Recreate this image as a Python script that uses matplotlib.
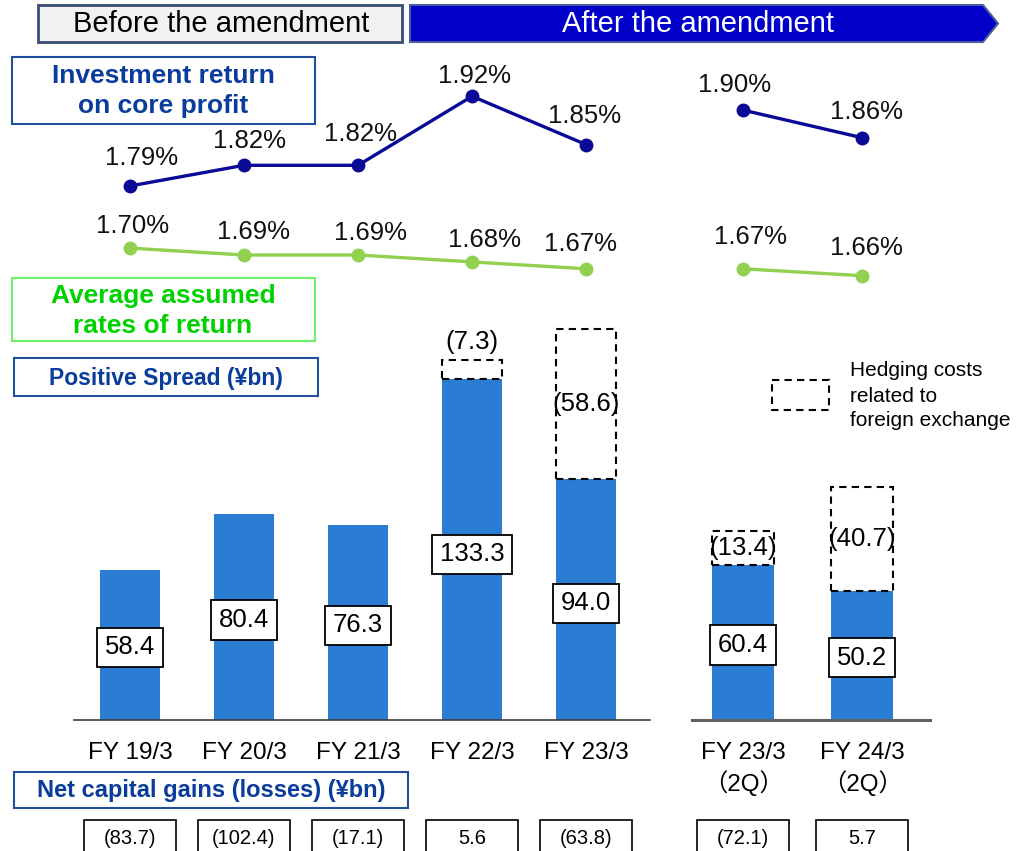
import matplotlib
matplotlib.use("Agg")
import matplotlib.pyplot as plt
from matplotlib.patches import Rectangle, Polygon

plt.rcParams['font.family'] = ['Liberation Sans', 'Noto Sans CJK JP', 'DejaVu Sans']

# ---------------- data ----------------
cats_before = ["FY 19/3", "FY 20/3", "FY 21/3", "FY 22/3", "FY 23/3"]
cats_after = ["FY 23/3\n（2Q）", "FY 24/3\n（2Q）"]
inv_return_before = [1.79, 1.82, 1.82, 1.92, 1.85]
inv_return_after = [1.90, 1.86]
assumed_before = [1.70, 1.69, 1.69, 1.68, 1.67]
assumed_after = [1.67, 1.66]
spread_before = [58.4, 80.4, 76.3, 133.3, 94.0]
spread_after = [60.4, 50.2]
hedge_before = [0, 0, 0, 7.3, 58.6]
hedge_after = [13.4, 40.7]
gains_before = [-83.7, -102.4, -17.1, 5.6, -63.8]
gains_after = [-72.1, 5.7]

# label offsets (pixels) for percent labels
off_inv_before = [(12, 28), (6, 24), (2, 31), (2, 20), (-2, 29)]
off_inv_after = [(-8, 25), (4, 26)]
off_ass_before = [(3, 22), (10, 23), (12, 22), (12, 22), (-6, 25)]
off_ass_after = [(7, 32), (4, 28)]

W, H = 1017, 851
fig = plt.figure(figsize=(W / 100, H / 100), dpi=100)

def px_axes(x0, y0, x1, y1, z=1):
    ax = fig.add_axes([x0 / W, 1 - y1 / H, (x1 - x0) / W, (y1 - y0) / H], zorder=z)
    ax.set_facecolor('none')
    return ax

# overlay for decorations
ov = px_axes(0, 0, W, H, z=0)
ov.set_xlim(0, W)
ov.set_ylim(H, 0)
ov.axis('off')

BAR_C = '#2B7CD3'
BLUE_L = '#0A0A96'
GREEN_L = '#92D050'
TXT_BLUE = '#0A3C9C'

def fmt_neg(v):
    return f"({abs(v):.1f})" if v < 0 else f"{v:.1f}"

groups = [
    dict(cats=cats_before, inv=inv_return_before, ass=assumed_before, spread=spread_before,
         hedge=hedge_before, gains=gains_before, oi=off_inv_before, oa=off_ass_before,
         px=(74, 650), xlim=(-0.49, 4.56), bw=0.53, gw=0.807, line_y=(40, 300),
         base_c='#404040', base_lw=1.2),
    dict(cats=cats_after, inv=inv_return_after, ass=assumed_after, spread=spread_after,
         hedge=hedge_after, gains=gains_after, oi=off_inv_after, oa=off_ass_after,
         px=(692, 930), xlim=(-0.429, 1.571), bw=0.52, gw=0.773, line_y=(43, 303),
         base_c='#606060', base_lw=2.2),
]

PX_PER_UNIT_BAR = 2.56
PX_PER_PCT = 690.0

for g in groups:
    x0, x1 = g['px']
    n = len(g['cats'])
    xs = list(range(n))

    # ---------- line axes ----------
    ly0, ly1 = g['line_y']
    axl = px_axes(x0, ly0, x1, ly1, z=2)
    ref_px = 186 - ly0
    top_v = 1.79 + ref_px / PX_PER_PCT
    bot_v = top_v - (ly1 - ly0) / PX_PER_PCT
    axl.set_ylim(bot_v, top_v)
    axl.set_xlim(*g['xlim'])
    axl.axis('off')
    axl.plot(xs, g['inv'], color=BLUE_L, lw=2.4, marker='o', ms=9, clip_on=False)
    axl.plot(xs, g['ass'], color=GREEN_L, lw=2.4, marker='o', ms=9, clip_on=False)
    for x, v, o in zip(xs, g['inv'], g['oi']):
        axl.annotate(f"{v:.2f}%", (x, v), xytext=o, textcoords='offset pixels',
                     ha='center', va='center', fontsize=18.5, color='#111111')
    for x, v, o in zip(xs, g['ass'], g['oa']):
        axl.annotate(f"{v:.2f}%", (x, v), xytext=o, textcoords='offset pixels',
                     ha='center', va='center', fontsize=18.5, color='#111111')

    # ---------- bar axes ----------
    axb = px_axes(x0, 320, x1, 720, z=2)
    axb.set_xlim(*g['xlim'])
    axb.set_ylim(0, 400 / PX_PER_UNIT_BAR)
    axb.bar(xs, g['spread'], width=g['bw'], color=BAR_C, zorder=2)
    for x, v, h in zip(xs, g['spread'], g['hedge']):
        if h > 0:
            axb.bar(x, h, bottom=v, width=g['bw'], fill=False, edgecolor='black',
                    linestyle=(0, (3.5, 2.5)), linewidth=1.5, zorder=3)
            lab = f"({h:.1f})"
            if h < 10:
                axb.text(x, v + h + 2.5, lab, ha='center', va='bottom', fontsize=18.5, zorder=4)
            else:
                axb.text(x, v + h / 2, lab, ha='center', va='center', fontsize=18.5, zorder=4)
        axb.text(x, v * 0.485, f"{v:.1f}", ha='center', va='center', fontsize=18.5, zorder=4,
                 bbox=dict(boxstyle='square,pad=0.3', fc='white', ec='black', lw=1.3))
    for s in ['top', 'left', 'right']:
        axb.spines[s].set_visible(False)
    axb.spines['bottom'].set_color(g['base_c'])
    axb.spines['bottom'].set_linewidth(g['base_lw'])
    axb.set_yticks([])
    axb.set_xticks(xs)
    axb.set_xticklabels(g['cats'], fontsize=17.5, linespacing=1.3)
    axb.tick_params(axis='x', length=0, pad=16)

    # ---------- net capital gains row ----------
    axg = px_axes(x0, 815, x1, 851, z=2)
    axg.set_xlim(*g['xlim'])
    axg.set_ylim(0, 1)
    axg.axis('off')
    for x, v in zip(xs, g['gains']):
        axg.add_patch(Rectangle((x - g['gw'] / 2, -0.5), g['gw'], 1.361, fc='white',
                                ec='black', lw=1.2, clip_on=False))
        axg.text(x, 0.36, fmt_neg(v), ha='center', va='center', fontsize=14.5)

# ---------------- header ----------------
ov.add_patch(Rectangle((38, 5), 364, 37, fc='#F2F2F2', ec='#3A4D72', lw=2))
ov.text(221, 24, "Before the amendment", ha='center', va='center', fontsize=21, color='black')
ov.add_patch(Polygon([(410, 5), (983, 5), (998, 23.5), (983, 42), (410, 42)], closed=True,
                     fc='#0000C8', ec='#4A5C9A', lw=1.5))
ov.text(698, 24, "After the amendment", ha='center', va='center', fontsize=21, color='white')

# ---------------- label boxes ----------------
ov.add_patch(Rectangle((12, 57), 303, 67, fc='white', ec='#1F4E9A', lw=1.5))
ov.text(163, 91, "Investment return\non core profit", ha='center', va='center', fontsize=19,
        fontweight='bold', color=TXT_BLUE, linespacing=1.35)
ov.add_patch(Rectangle((12, 278), 303, 63, fc='white', ec='#6EF06E', lw=1.5))
ov.text(163, 311, "Average assumed\nrates of return", ha='center', va='center', fontsize=19,
        fontweight='bold', color='#00D200', linespacing=1.3)
ov.add_patch(Rectangle((14, 358), 304, 38, fc='white', ec='#1F4E9A', lw=1.5))
ov.text(166, 378, "Positive Spread (¥bn)", ha='center', va='center', fontsize=16.5,
        fontweight='bold', color=TXT_BLUE)
ov.add_patch(Rectangle((14, 772), 394, 36, fc='white', ec='#1F4E9A', lw=1.5))
ov.text(211, 790, "Net capital gains (losses) (¥bn)", ha='center', va='center', fontsize=17,
        fontweight='bold', color=TXT_BLUE)

# ---------------- legend ----------------
ov.add_patch(Rectangle((772, 380), 57, 30, fill=False, ec='black', lw=1.5,
                       linestyle=(0, (3.5, 2.5))))
ov.text(850, 396, "Hedging costs\nrelated to\nforeign exchange", ha='left', va='center',
        fontsize=15, linespacing=1.4)

fig.savefig("out.png", dpi=100)
